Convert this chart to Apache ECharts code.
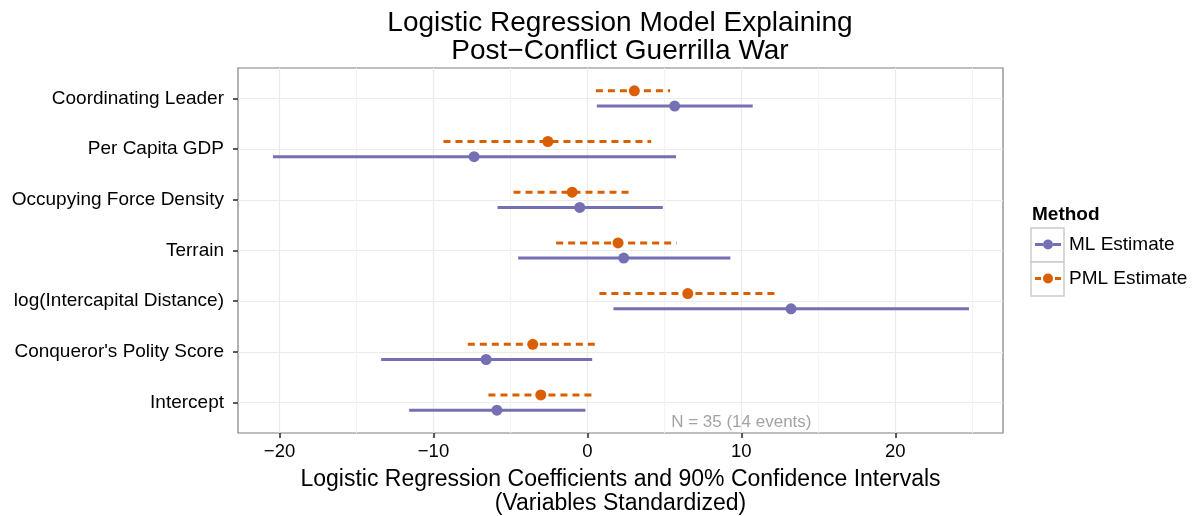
<!DOCTYPE html>
<html>
<head>
<meta charset="utf-8">
<script src="https://cdn.jsdelivr.net/npm/echarts@6/dist/echarts.min.js"></script>
<style>
  html, body { margin: 0; padding: 0; background: #fff; }
  #chart { width: 1194px; height: 516px; }
</style>
</head>
<body>
<div id="chart"></div>
<script>
// rows, top to bottom
const variables = [
  'Coordinating Leader',
  'Per Capita GDP',
  'Occupying Force Density',
  'Terrain',
  'log(Intercapital Distance)',
  "Conqueror's Polity Score",
  'Intercept'
];

// ML estimate with 90% interval
const mlEst = [5.67, -7.36, -0.50, 2.36, 13.23, -6.58, -5.88];
const mlLow = [0.61, -20.43, -5.84, -4.50, 1.69, -13.40, -11.58];
const mlHigh = [10.74, 5.76, 4.90, 9.29, 24.79, 0.31, -0.13];

// PML estimate with 90% interval
const pmlEst = [3.05, -2.57, -0.99, 1.99, 6.52, -3.55, -3.03];
const pmlLow = [0.55, -9.35, -4.80, -2.03, 0.78, -7.77, -6.43];
const pmlHigh = [5.37, 4.14, 2.82, 5.80, 12.30, 0.72, 0.39];

const xTicks = [-20, -10, 0, 10, 20];
const xMinorTicks = [-15, -5, 5, 15, 25];

const ML_COLOR = '#7570b3';
const PML_COLOR = '#d95f02';
const FONT = 'Liberation Sans';

const n = variables.length;
const yTicks = variables.map((v, i) => n - i);

function buildRows(est, low, high, dodge) {
  return est.map((e, i) => [low[i], high[i], e, n - i + dodge]);
}

function makeRender(color, dashed) {
  return function (params, api) {
    const y = api.value(3);
    const a = api.coord([api.value(0), y]);
    const b = api.coord([api.value(1), y]);
    const c = api.coord([api.value(2), y]);
    return {
      type: 'group',
      children: [
        {
          type: 'line',
          shape: { x1: a[0], y1: a[1], x2: b[0], y2: b[1] },
          style: { stroke: color, lineWidth: 3, lineDash: dashed ? [7, 5] : null, lineCap: 'butt' }
        },
        {
          type: 'circle',
          shape: { cx: c[0], cy: c[1], r: 5.5 },
          style: { fill: color }
        }
      ]
    };
  };
}

const mlIcon = 'path://M0,4H8V7H0Z M18,4H26V7H18Z M8,5.5A5,5 0 1,1 18,5.5A5,5 0 1,1 8,5.5Z';
const pmlIcon = 'path://M0,4H6V7H0Z M20,4H26V7H20Z M8,5.5A5,5 0 1,1 18,5.5A5,5 0 1,1 8,5.5Z';

const chart = echarts.init(document.getElementById('chart'));

chart.setOption({
  animation: false,
  textStyle: { fontFamily: FONT },
  title: [
    {
      text: 'Logistic Regression Model Explaining\nPost\u2212Conflict Guerrilla War',
      left: 620,
      top: 9,
      padding: 0,
      textAlign: 'center',
      textStyle: { fontFamily: FONT, fontSize: 28, fontWeight: 'normal', color: '#000', lineHeight: 28 }
    },
    {
      text: 'Method',
      left: 1032,
      top: 205,
      padding: 0,
      textStyle: { fontFamily: FONT, fontSize: 19, fontWeight: 'bold', color: '#000' }
    }
  ],
  legend: {
    left: 1035,
    top: 235,
    padding: 0,
    orient: 'vertical',
    itemWidth: 26,
    itemHeight: 11,
    itemGap: 15,
    textStyle: { fontFamily: FONT, fontSize: 19, color: '#000', padding: [0, 0, 0, 3] },
    data: [
      { name: 'ML Estimate', icon: mlIcon, itemStyle: { color: ML_COLOR } },
      { name: 'PML Estimate', icon: pmlIcon, itemStyle: { color: PML_COLOR } }
    ]
  },
  graphic: [
    { type: 'rect', shape: { x: 1031, y: 228, width: 33, height: 34 }, style: { fill: '#fff', stroke: '#cccccc', lineWidth: 1.5 }, z: -1 },
    { type: 'rect', shape: { x: 1031, y: 262, width: 33, height: 34 }, style: { fill: '#fff', stroke: '#cccccc', lineWidth: 1.5 }, z: -1 }
  ],
  grid: {
    left: 238,
    top: 68,
    right: 191,
    bottom: 83,
    outerBoundsMode: 'none',
    containLabel: false,
    show: true,
    borderColor: '#7f7f7f',
    borderWidth: 1.2,
    backgroundColor: '#fff'
  },
  xAxis: [
    {
      type: 'value',
      min: -22.7,
      max: 27.0,
      name: 'Logistic Regression Coefficients and 90% Confidence Intervals\n(Variables Standardized)',
      nameLocation: 'middle',
      nameGap: 35,
      nameTextStyle: { fontFamily: FONT, fontSize: 23, color: '#000', lineHeight: 24, verticalAlign: 'top' },
      axisLine: { show: false, onZero: false },
      axisTick: { show: true, inside: false, length: 5, customValues: xTicks, lineStyle: { color: '#333', width: 1.6 } },
      axisLabel: {
        customValues: xTicks,
        margin: 9,
        fontSize: 18.5,
        color: '#000',
        fontFamily: FONT,
        formatter: v => String(v).replace('-', '\u2212')
      },
      splitLine: { show: true, lineStyle: { color: '#ebebeb', width: 1.2 } }
    },
    {
      type: 'value',
      min: -22.7,
      max: 27.0,
      position: 'bottom',
      axisLine: { show: false, onZero: false },
      axisTick: { show: false, customValues: xMinorTicks },
      axisLabel: { show: false, customValues: xMinorTicks },
      splitLine: { show: true, lineStyle: { color: '#f4f4f4', width: 1 } }
    }
  ],
  yAxis: {
    type: 'value',
    min: 0.4,
    max: 7.6,
    axisLine: { show: false, onZero: false },
    axisTick: { show: true, inside: false, length: 5, customValues: yTicks, lineStyle: { color: '#333', width: 1.6 } },
    axisLabel: {
      customValues: yTicks,
      margin: 14,
      fontSize: 19,
      color: '#000',
      fontFamily: FONT,
      padding: [3, 0, 0, 0],
      formatter: v => variables[n - Math.round(v)]
    },
    splitLine: { show: true, lineStyle: { color: '#ebebeb', width: 1.2 } }
  },
  series: [
    {
      name: 'ML Estimate',
      type: 'custom',
      renderItem: makeRender(ML_COLOR, false),
      encode: { x: [0, 1, 2], y: 3 },
      itemStyle: { color: ML_COLOR },
      data: buildRows(mlEst, mlLow, mlHigh, -0.15),
      z: 3
    },
    {
      name: 'PML Estimate',
      type: 'custom',
      renderItem: makeRender(PML_COLOR, true),
      encode: { x: [0, 1, 2], y: 3 },
      itemStyle: { color: PML_COLOR },
      data: buildRows(pmlEst, pmlLow, pmlHigh, 0.15),
      z: 3
    },
    {
      name: 'note',
      type: 'scatter',
      symbolSize: 0,
      silent: true,
      data: [[10, 0.61]],
      label: {
        show: true,
        position: 'inside',
        formatter: 'N = 35 (14 events)',
        fontFamily: FONT,
        fontSize: 17,
        color: '#8c8c8c'
      }
    }
  ]
});
</script>
</body>
</html>
